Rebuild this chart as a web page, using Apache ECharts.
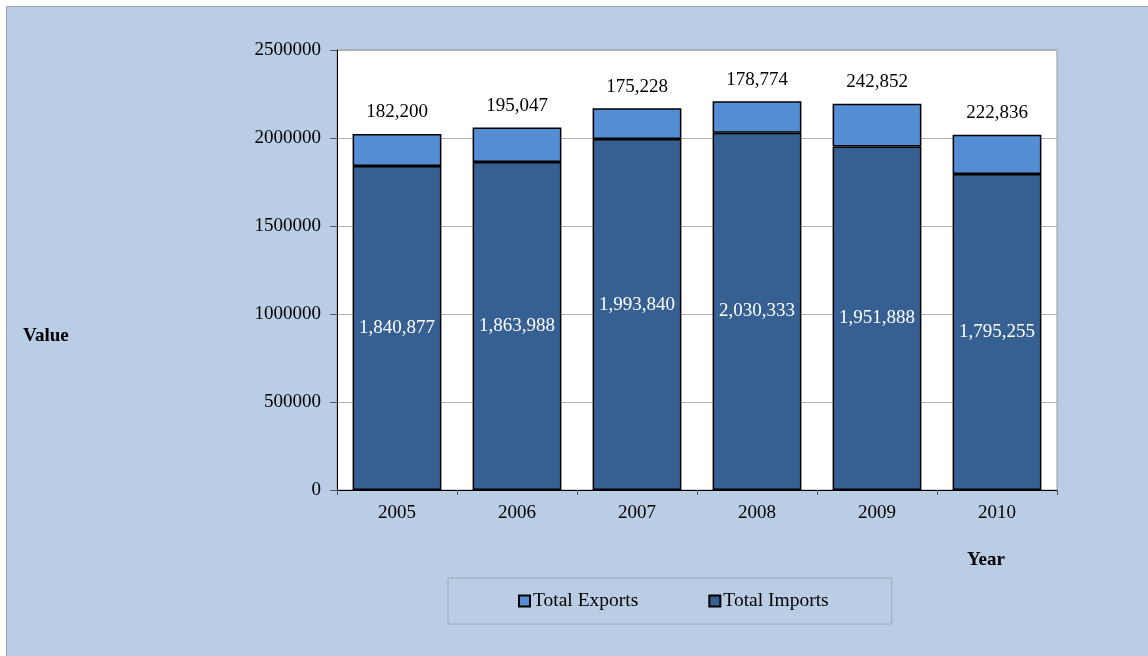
<!DOCTYPE html>
<html><head><meta charset="utf-8">
<script src="https://cdn.jsdelivr.net/npm/echarts@6/dist/echarts.min.js"></script>
<style>html,body{margin:0;padding:0;background:#fff}#c{width:1148px;height:656px}</style>
</head><body><div id="c"></div>
<script>
const years = ['2005','2006','2007','2008','2009','2010'];
const totalImports = [1840877, 1863988, 1993840, 2030333, 1951888, 1795255];
const totalExports = [182200, 195047, 175228, 178774, 242852, 222836];
const yTicks = {min: 0, max: 2500000, interval: 500000};

const fmt = v => v.toLocaleString('en-US');
const font = '"Liberation Serif", "Times New Roman", serif';
const chart = echarts.init(document.getElementById('c'));
chart.setOption({
  backgroundColor: '#fff',
  animation: false,
  graphic: [
    {type: 'rect', shape: {x: 6.5, y: 6.5, width: 1160, height: 670}, style: {fill: '#B9CDE5', stroke: '#9AA8B8', lineWidth: 1}, z: -10},
    {type: 'text', left: 23, top: 327, style: {text: 'Value', font: 'bold 19px ' + font, fill: '#000'}},
    {type: 'text', left: 967, top: 551, style: {text: 'Year', font: 'bold 19px ' + font, fill: '#000'}}
  ],
  grid: {left: 337, right: 91, top: 50, bottom: 166, show: true, backgroundColor: '#fff', borderColor: '#9a9a9a', borderWidth: 1},
  legend: {
    data: ['Total Exports', 'Total Imports'],
    left: 448, top: 578,
    padding: [13, 63, 13, 70],
    itemGap: 70,
    itemWidth: 11, itemHeight: 11,
    icon: 'rect',
    borderColor: '#9AA8B8', borderWidth: 1,
    textStyle: {fontFamily: font, fontSize: 19.5, color: '#000', padding: [0, 0, 0, -2]}
  },
  xAxis: {
    type: 'category', data: years,
    axisLine: {lineStyle: {color: '#000', width: 1}},
    axisTick: {show: true, length: 5, lineStyle: {color: '#555'}},
    axisLabel: {fontFamily: font, fontSize: 19, color: '#000', margin: 14}
  },
  yAxis: {
    type: 'value', min: yTicks.min, max: yTicks.max, interval: yTicks.interval,
    axisLine: {show: true, lineStyle: {color: '#000', width: 1}},
    axisTick: {show: true, length: 7, lineStyle: {color: '#555'}},
    axisLabel: {fontFamily: font, fontSize: 19, color: '#000', margin: 16, formatter: v => String(v)},
    splitLine: {lineStyle: {color: '#b0b0b0', width: 1}}
  },
  series: [
    {
      name: 'Total Imports', type: 'bar', stack: 'all', barWidth: '74%',
      data: totalImports.map((v, i) => ({value: v, label: i === 2 ? {offset: [0, -10]} : {}})),
      itemStyle: {color: '#376092', borderColor: '#000', borderWidth: 1.5},
      label: {show: true, position: 'inside', formatter: p => fmt(p.value), fontFamily: font, fontSize: 19, color: '#fff'}
    },
    {
      name: 'Total Exports', type: 'bar', stack: 'all', barWidth: '74%',
      data: totalExports,
      itemStyle: {color: '#558ED5', borderColor: '#000', borderWidth: 1.5},
      label: {show: true, position: 'top', distance: 12, formatter: p => fmt(p.value), fontFamily: font, fontSize: 19, color: '#000'}
    }
  ]
});
</script></body></html>
